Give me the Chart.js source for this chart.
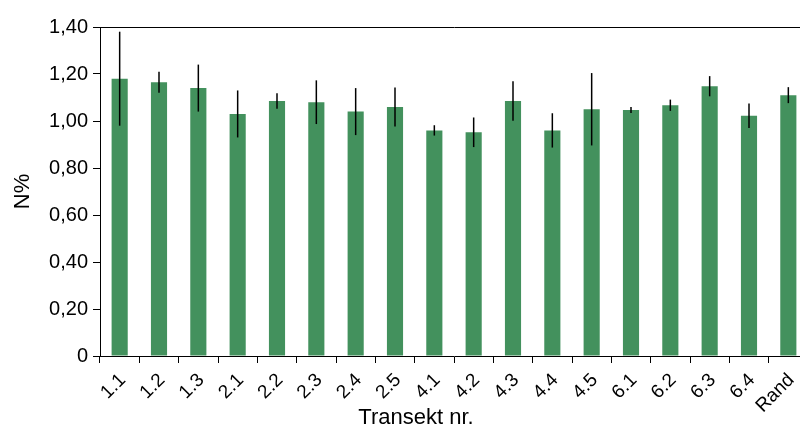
<!DOCTYPE html>
<html>
<head>
<meta charset="utf-8">
<script src="https://cdn.jsdelivr.net/npm/chart.js@4"></script>
<style>
  html, body { margin: 0; padding: 0; overflow: hidden; background: #fff; }
  #wrap { width: 832px; height: 426px; }
</style>
</head>
<body>
<div id="wrap"><canvas id="chart"></canvas></div>
<script>
// N% per transect, with error (+/-)
const transects = ['1.1', '1.2', '1.3', '2.1', '2.2', '2.3', '2.4', '2.5', '4.1', '4.2', '4.3', '4.4', '4.5', '6.1', '6.2', '6.3', '6.4', 'Rand'];
const nPercent = [1.18, 1.165, 1.14, 1.03, 1.085, 1.08, 1.04, 1.06, 0.96, 0.952, 1.085, 0.96, 1.05, 1.047, 1.067, 1.148, 1.022, 1.11];
const nError = [0.20, 0.045, 0.10, 0.10, 0.033, 0.093, 0.10, 0.083, 0.022, 0.063, 0.084, 0.073, 0.154, 0.013, 0.024, 0.043, 0.052, 0.034];

Chart.defaults.color = '#000';
Chart.defaults.font.family = '"Liberation Sans", Arial, sans-serif';

// error bars drawn on top of each bar, using the y scale
const errorBars = {
  id: 'errorBars',
  afterDatasetsDraw(chart) {
    const { ctx } = chart;
    const y = chart.scales.y;
    const meta = chart.getDatasetMeta(0);
    ctx.save();
    ctx.strokeStyle = '#000';
    ctx.lineWidth = 1.5;
    meta.data.forEach((bar, i) => {
      const v = nPercent[i], e = nError[i];
      ctx.beginPath();
      ctx.moveTo(bar.x, y.getPixelForValue(v + e));
      ctx.lineTo(bar.x, y.getPixelForValue(v - e));
      ctx.stroke();
    });
    ctx.restore();
  }
};

new Chart(document.getElementById('chart'), {
  type: 'bar',
  data: {
    labels: transects,
    datasets: [{
      data: nPercent,
      backgroundColor: '#43915d',
      barPercentage: 0.41,
      categoryPercentage: 1.0,
    }]
  },
  options: {
    responsive: true,
    maintainAspectRatio: false,
    animation: false,
    layout: { padding: { top: 27, left: 0, right: 0, bottom: 0 } },
    plugins: {
      legend: { display: false },
      tooltip: { enabled: false },
      title: {
        display: true,
        position: 'bottom',
        text: 'Transekt nr.',
        font: { size: 22, weight: 'normal', lineHeight: 1 },
        // x axis box is made tall so rotated labels are not clipped; title overlaps it
        padding: { top: -9, bottom: -3 },
      },
    },
    scales: {
      x: {
        grid: { offset: true, drawOnChartArea: false, tickLength: 7, tickColor: '#000' },
        border: { color: '#000', width: 1 },
        ticks: { autoSkip: false, minRotation: 45, maxRotation: 45, padding: 6, labelOffset: 3, font: { size: 19 } },
        afterFit: (s) => { s.height = 60; },
      },
      y: {
        min: 0,
        max: 1.4,
        ticks: {
          stepSize: 0.2,
          padding: 5,
          font: { size: 20 },
          callback: (v) => v === 0 ? '0' : v.toFixed(2).replace('.', ','),
        },
        grid: {
          tickLength: 7,
          tickColor: '#000',
          color: (c) => c.tick && Math.abs(c.tick.value - 1.4) < 1e-9 ? '#000' : 'rgba(0,0,0,0)',
        },
        border: { color: '#000', width: 1 },
        title: { display: true, text: 'N%', font: { size: 22 }, padding: { top: 10, bottom: 0 } },
        afterFit: (s) => { s.width = 100; },
      },
      // empty axis on the right, only to push the plot edge past the window
      y2: {
        position: 'right',
        display: true,
        grid: { display: false },
        border: { display: false },
        ticks: { display: false },
        afterFit: (s) => { s.width = 24; },
      },
    },
  },
  plugins: [errorBars],
});
</script>
</body>
</html>
